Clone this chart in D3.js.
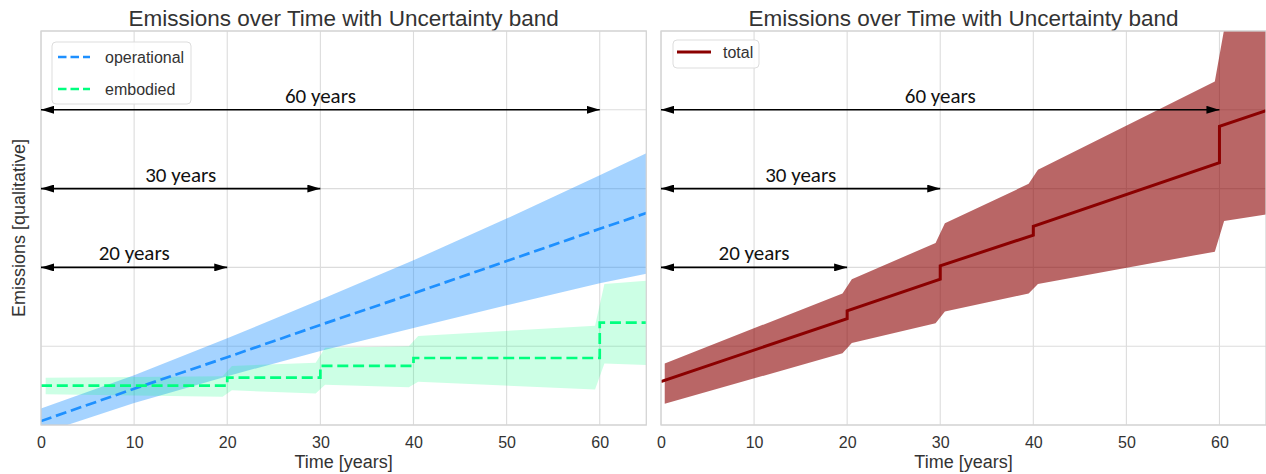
<!DOCTYPE html>
<html><head><meta charset="utf-8">
<script src="https://cdn.jsdelivr.net/npm/d3@7"></script>
<style>body{margin:0;background:#fff}svg{display:block}</style>
</head><body>
<svg id="chart" width="1266" height="474"></svg>
<script>
// ---- data ----
const years = [0, 10, 20, 30, 40, 50, 60, 65];
const operational      = [0.05, 0.46, 0.86, 1.27, 1.67, 2.08, 2.49, 2.69];
const operationalUpper = [0.21, 0.63, 1.10, 1.59, 2.09, 2.62, 3.17, 3.45];
const operationalLower = [-0.11, 0.28, 0.62, 0.94, 1.23, 1.52, 1.80, 1.92];

const embodiedYears = [0, 20, 30, 40, 60, 65];
const embodied      = [0.50, 0.60, 0.75, 0.85, 1.30, 1.30];

const bandYears     = [0.5, 19.5, 20.5, 29.5, 30.5, 39.5, 40.5, 59.5, 60.5, 65];
const embodiedUpper = [0.60, 0.62, 0.75, 0.79, 0.98, 1.00, 1.13, 1.26, 1.79, 1.83];
const embodiedLower = [0.39, 0.36, 0.44, 0.40, 0.51, 0.48, 0.55, 0.45, 0.78, 0.76];

const totalYears = [0, 20, 20, 30, 30, 40, 40, 60, 60, 65];
const total      = [0.55, 1.35, 1.45, 1.85, 2.02, 2.41, 2.52, 3.33, 3.79, 3.99];

const totalBandYears = [0.4, 19.5, 20.5, 29.5, 30.5, 39.5, 40.5, 59.5, 60.5, 65];
const totalUpper = [0.78, 1.67, 1.85, 2.31, 2.56, 3.06, 3.24, 4.36, 5.02, 5.25];
const totalLower = [0.27, 0.91, 1.04, 1.29, 1.44, 1.67, 1.79, 2.20, 2.59, 2.67];

const xTicks = [0, 10, 20, 30, 40, 50, 60];
const yTicks = [0, 1, 2, 3, 4, 5];

const spanLabels = ["60 years", "30 years", "20 years"];
const spanEnds   = [60, 30, 20];
const spanLevels = [4, 3, 2];

const titleText = "Emissions over Time with Uncertainty band";

// ---- drawing ----
const svg = d3.select("#chart");
const defs = svg.append("defs");
defs.append("marker")
  .attr("id", "ah").attr("viewBox", "0 0 13 8")
  .attr("refX", 13).attr("refY", 4)
  .attr("markerWidth", 13).attr("markerHeight", 8)
  .attr("markerUnits", "userSpaceOnUse")
  .attr("orient", "auto-start-reverse")
  .append("path").attr("d", "M0,0L13,4L0,8Z").attr("fill", "#000");

const plotTop = 31, plotBottom = 425;
const gridColor = "#dcdcdc";
const textColor = "#333";
const sansFont = "'Liberation Sans', Arial, sans-serif";

function panel(idx, x0, x1) {
  const g = svg.append("g");
  const x = d3.scaleLinear().domain([0, 65]).range([x0, x1]);
  const y = d3.scaleLinear().domain([0, 5]).range([plotBottom, plotTop]);

  defs.append("clipPath").attr("id", "clip" + idx)
    .append("rect").attr("x", x0).attr("y", plotTop).attr("width", x1 - x0).attr("height", plotBottom - plotTop);

  g.append("g").selectAll("line").data(xTicks).join("line")
    .attr("x1", d => x(d)).attr("x2", d => x(d)).attr("y1", plotTop).attr("y2", plotBottom)
    .attr("stroke", gridColor).attr("stroke-width", 1.1);
  g.append("g").selectAll("line").data(yTicks).join("line")
    .attr("x1", x0).attr("x2", x1).attr("y1", d => y(d)).attr("y2", d => y(d))
    .attr("stroke", gridColor).attr("stroke-width", 1.1);

  const ax = g.append("g").attr("transform", `translate(0,${plotBottom})`)
    .call(d3.axisBottom(x).tickValues(xTicks).tickSize(0).tickPadding(0).tickFormat(d3.format("d")));
  ax.select(".domain").remove();
  ax.selectAll("text").attr("dy", null).attr("y", 22.5)
    .attr("font-family", sansFont).attr("font-size", 16).attr("fill", textColor);

  g.append("text").attr("x", (x0 + x1) / 2).attr("y", 468).attr("text-anchor", "middle")
    .attr("font-family", sansFont).attr("font-size", 18).attr("fill", textColor)
    .text("Time [years]");
  g.append("text").attr("x", (x0 + x1) / 2).attr("y", 26).attr("text-anchor", "middle")
    .attr("font-family", sansFont).attr("font-size", 22.5).attr("fill", textColor)
    .text(titleText);

  const plot = g.append("g").attr("clip-path", `url(#clip${idx})`);
  return {g, plot, x, y, x0, x1};
}

function frame(p) {
  p.g.append("rect").attr("x", p.x0).attr("y", plotTop).attr("width", p.x1 - p.x0).attr("height", plotBottom - plotTop)
    .attr("fill", "none").attr("stroke", "#d4d4d4").attr("stroke-width", 1.3);
}

function spans(p) {
  spanEnds.forEach((e, i) => {
    p.g.append("line")
      .attr("x1", p.x(0)).attr("x2", p.x(e)).attr("y1", p.y(spanLevels[i])).attr("y2", p.y(spanLevels[i]))
      .attr("stroke", "#000").attr("stroke-width", 1.6)
      .attr("marker-start", "url(#ah)").attr("marker-end", "url(#ah)");
    p.g.append("text").attr("x", p.x(e / 2)).attr("y", p.y(spanLevels[i]) - 7)
      .attr("text-anchor", "middle").attr("font-family", "Carlito, Calibri, Lato, sans-serif")
      .attr("font-size", 21).attr("fill", "#111").text(spanLabels[i]);
  });
}

// Left panel
const L = panel(0, 41, 646.3);
const areaOp = d3.area().x((d, i) => L.x(years[i])).y0((d, i) => L.y(operationalLower[i])).y1((d, i) => L.y(operationalUpper[i]));
L.plot.append("path").attr("d", areaOp(years)).attr("fill", "#1e90ff").attr("fill-opacity", 0.4);
const areaEmb = d3.area().x((d, i) => L.x(bandYears[i])).y0((d, i) => L.y(embodiedLower[i])).y1((d, i) => L.y(embodiedUpper[i]));
L.plot.append("path").attr("d", areaEmb(bandYears)).attr("fill", "#00ff7f").attr("fill-opacity", 0.2);
const lineOp = d3.line().x((d, i) => L.x(years[i])).y((d, i) => L.y(operational[i]));
L.plot.append("path").attr("d", lineOp(years)).attr("fill", "none").attr("stroke", "#1e90ff")
  .attr("stroke-width", 2.7).attr("stroke-dasharray", "11,4.8");
const lineEmb = d3.line().curve(d3.curveStepAfter).x((d, i) => L.x(embodiedYears[i])).y((d, i) => L.y(embodied[i]));
L.plot.append("path").attr("d", lineEmb(embodiedYears)).attr("fill", "none").attr("stroke", "#00ff7f")
  .attr("stroke-width", 2.7).attr("stroke-dasharray", "11,4.8");
frame(L);
spans(L);
svg.append("text").attr("transform", "translate(25,228) rotate(-90)").attr("text-anchor", "middle")
  .attr("font-family", sansFont).attr("font-size", 18).attr("fill", textColor)
  .text("Emissions [qualitative]");

const lg = L.g.append("g");
lg.append("rect").attr("x", 52).attr("y", 42).attr("width", 139).attr("height", 62).attr("rx", 4)
  .attr("fill", "#fff").attr("fill-opacity", 0.85).attr("stroke", "#dddddd");
[["operational", "#1e90ff", 57], ["embodied", "#00ff7f", 89]].forEach(([t, c, yy]) => {
  lg.append("line").attr("x1", 58).attr("x2", 90).attr("y1", yy).attr("y2", yy)
    .attr("stroke", c).attr("stroke-width", 2.7).attr("stroke-dasharray", "8.5,4");
  lg.append("text").attr("x", 105).attr("y", yy + 5.5).attr("font-family", sansFont)
    .attr("font-size", 16).attr("fill", textColor).text(t);
});

// Right panel
const R = panel(1, 661, 1266);
const areaTot = d3.area().x((d, i) => R.x(totalBandYears[i])).y0((d, i) => R.y(totalLower[i])).y1((d, i) => R.y(totalUpper[i]));
R.plot.append("path").attr("d", areaTot(totalBandYears)).attr("fill", "#8b0000").attr("fill-opacity", 0.6);
const lineTot = d3.line().x((d, i) => R.x(totalYears[i])).y((d, i) => R.y(total[i]));
R.plot.append("path").attr("d", lineTot(totalYears)).attr("fill", "none").attr("stroke", "#8b0000")
  .attr("stroke-width", 3);
frame(R);
spans(R);
const rg = R.g.append("g");
rg.append("rect").attr("x", 673).attr("y", 40).attr("width", 86).attr("height", 28).attr("rx", 4)
  .attr("fill", "#fff").attr("fill-opacity", 0.85).attr("stroke", "#dddddd");
rg.append("line").attr("x1", 677).attr("x2", 711).attr("y1", 52).attr("y2", 52)
  .attr("stroke", "#8b0000").attr("stroke-width", 3);
rg.append("text").attr("x", 723).attr("y", 57.5).attr("font-family", sansFont)
  .attr("font-size", 16).attr("fill", textColor).text("total");
</script>
</body></html>
